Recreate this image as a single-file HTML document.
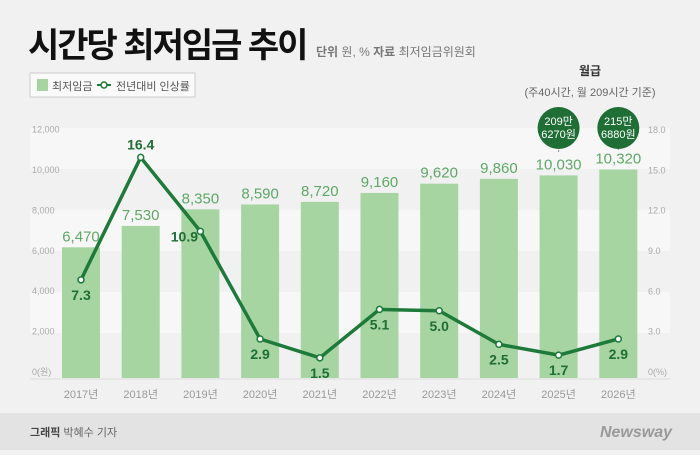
<!DOCTYPE html>
<html><head><meta charset="utf-8"><style>
body{margin:0;width:700px;height:450px;overflow:hidden;background:#f2f2f2;font-family:"Liberation Sans","Noto Sans CJK KR",sans-serif}
</style></head><body>
<svg width="700" height="450" xmlns="http://www.w3.org/2000/svg" font-family="Liberation Sans, Noto Sans CJK KR, sans-serif">
<rect width="700" height="413" fill="#f1f1f1"/>
<rect x="30" y="128" width="640" height="41" fill="#f7f7f7"/>
<rect x="30" y="210" width="640" height="41" fill="#f7f7f7"/>
<rect x="30" y="292" width="640" height="41" fill="#f7f7f7"/>
<text x="28" y="57" font-size="34" font-weight="bold" fill="#111" letter-spacing="-2">시간당 최저임금 추이</text>
<text x="316" y="56" font-size="12" fill="#777"><tspan font-weight="bold">단위</tspan> 원, % <tspan font-weight="bold">자료</tspan> 최저임금위원회</text>
<g>
<rect x="30" y="73" width="165" height="24" fill="#fafafa" stroke="#ccc"/>
<rect x="37" y="79" width="11" height="12" fill="#a6d5a1"/>
<text x="52" y="90" font-size="11" fill="#555">최저임금</text>
<line x1="97" y1="85" x2="111" y2="85" stroke="#1e7a3a" stroke-width="2"/>
<circle cx="104" cy="85" r="3" fill="#fff" stroke="#1e7a3a" stroke-width="1.5"/>
<text x="116" y="90" font-size="11" fill="#555">전년대비 인상률</text>
</g>
<text x="590" y="75" font-size="12" font-weight="bold" text-anchor="middle" fill="#333">월급</text>
<text x="590" y="96" font-size="11" text-anchor="middle" fill="#666">(주40시간, 월 209시간 기준)</text>
<g id="axes"></g>
<g id="bars"></g>
<g id="line"></g>
<rect y="413" width="700" height="37" fill="#e3e3e3"/>
<text x="30" y="436" font-size="11" fill="#666"><tspan font-weight="bold" fill="#444">그래픽</tspan> 박혜수 기자</text>
<text x="672" y="437" font-size="16" font-style="italic" font-weight="bold" text-anchor="end" fill="#999">Newsway</text>
</svg>
<script>
const years=["2017년","2018년","2019년","2020년","2021년","2022년","2023년","2024년","2025년","2026년"];
const wages=[6470,7530,8350,8590,8720,9160,9620,9860,10030,10320];
const rates=[7.3,16.4,10.9,2.9,1.5,5.1,5.0,2.5,1.7,2.9];
const leftTicks=[0,2000,4000,6000,8000,10000,12000];
const leftLabels=["0(원)","2,000","4,000","6,000","8,000","10,000","12,000"];
const rightTicks=[0,3,6,9,12,15,18];
const rightLabels=["0(%)","3.0","6.0","9.0","12.0","15.0","18.0"];
const monthly=[null,null,null,null,null,null,null,null,["209만","6270원"],["215만","6880원"]];
const NS="http://www.w3.org/2000/svg";
const base=378;
const yL=v=>base-v*0.0202;
const yR=v=>base-v*13.45;
const xC=i=>81+i*59.7;
function mk(t,a,p,txt){const e=document.createElementNS(NS,t);for(const k in a)e.setAttribute(k,a[k]);if(txt!==undefined)e.textContent=txt;p.appendChild(e);return e;}
const ax=document.getElementById('axes'),bg=document.getElementById('bars'),lg=document.getElementById('line');
leftTicks.forEach((v,i)=>{const t=mk('text',{x:32,y:yL(v)-3,'font-size':9,fill:'#aaa'},ax,leftLabels[i]);

});
rightTicks.forEach((v,i)=>{const t=mk('text',{x:648,y:yR(v)-3,'font-size':9,fill:'#aaa'},ax,rightLabels[i]);

});
const bl=mk('line',{x1:30,x2:670,y1:base+1,y2:base+1,stroke:'#ddd'},ax);


years.forEach((y,i)=>{const t=mk('text',{x:xC(i),y:398,'font-size':11,fill:'#999','text-anchor':'middle'},ax,y);

});
wages.forEach((v,i)=>{
const r=mk('rect',{x:xC(i)-19,y:yL(v),width:38,height:base-yL(v),fill:'#a6d5a1'},bg);


const t=mk('text',{x:xC(i),y:yL(v)-6,'font-size':15,fill:'#5ea866','text-anchor':'middle'},bg,v.toLocaleString('en-US'));


if(monthly[i]){
const cy=128;
mk('line',{x1:xC(i),x2:xC(i),y1:cy+22,y2:yL(v)-22,stroke:'#888','stroke-dasharray':'2,2'},bg);
const c=mk('circle',{cx:xC(i),cy:cy,r:21,fill:'#1e6e35'},bg);


mk('text',{x:xC(i),y:cy-3,'font-size':11,fill:'#fff','text-anchor':'middle'},bg,monthly[i][0]);
mk('text',{x:xC(i),y:cy+10,'font-size':11,fill:'#fff','text-anchor':'middle'},bg,monthly[i][1]);
}});
const pl=mk('polyline',{points:rates.map((v,i)=>xC(i)+','+yR(v)).join(' '),fill:'none',stroke:'#1e7a3a','stroke-width':3.5,'stroke-linejoin':'round'},lg);


rates.forEach((v,i)=>{
const c=mk('circle',{cx:xC(i),cy:yR(v),r:3,fill:'#fff',stroke:'#1e7a3a','stroke-width':1.5},lg);


let lx=xC(i),ly=yR(v)+20;
if(i===1)ly=yR(v)-8;
if(i===2){lx=xC(i)-16;ly=yR(v)+10;}
const t=mk('text',{x:lx,y:ly,'font-size':14,'font-weight':'bold',fill:'#1e6e35','text-anchor':'middle'},lg,v.toFixed(1));


});
</script>
</body></html>
